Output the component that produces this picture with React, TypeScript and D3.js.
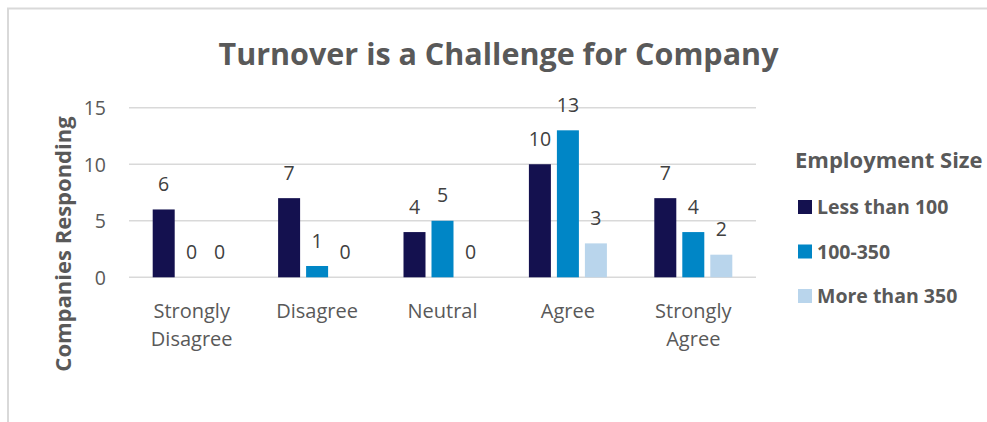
import React from "react";
import * as d3 from "d3";

const categories = ["Strongly Disagree", "Disagree", "Neutral", "Agree", "Strongly Agree"];
const categoryLines = [["Strongly", "Disagree"], ["Disagree"], ["Neutral"], ["Agree"], ["Strongly", "Agree"]];
const seriesNames = ["Less than 100", "100-350", "More than 350"];
const lessThan100 = [6, 7, 4, 10, 7];
const from100to350 = [0, 1, 5, 13, 4];
const moreThan350 = [0, 0, 0, 3, 2];
const yTicks = [0, 5, 10, 15];
const colors = ["#14114F", "#0086C6", "#B9D5EC"];

const W = 987;
const H = 422;
const FONT = "'Open Sans', Lato, sans-serif";
const TEXT = "#595959";

export default function App() {
  const seriesValues = [lessThan100, from100to350, moreThan350];
  const x0 = d3.scaleBand<string>().domain(categories).range([129, 756]).padding(0);
  const x1 = d3.scaleBand<string>().domain(seriesNames).range([-39, 39]).paddingInner(6 / 28).paddingOuter(0);
  const y = d3.scaleLinear().domain([0, 15]).range([277.3, 107.7]);

  return (
    <svg width={W} height={H} style={{ position: "absolute", left: 0, top: 0, background: "#fff" }} fontFamily={FONT}>
      <rect x={8} y={8.5} width={W + 10} height={H + 10} fill="#fff" stroke="#D9D9D9" strokeWidth={2} />
      <text x={498.5} y={65} textAnchor="middle" fontSize={30.5} fontWeight="bold" fill={TEXT}>
        Turnover is a Challenge for Company
      </text>
      {yTicks.map((t) => (
        <g key={t}>
          <line x1={129} x2={756} y1={y(t)} y2={y(t)} stroke="#D9D9D9" strokeWidth={1.5} />
          <text x={106} y={y(t) + 7.5} textAnchor="end" fontSize={19.5} fill={TEXT}>
            {t}
          </text>
        </g>
      ))}
      <text
        transform={`translate(${71},${244}) rotate(-90)`}
        textAnchor="middle"
        fontSize={22}
        fontWeight="bold"
        fill={TEXT}
      >
        Companies Responding
      </text>
      {categories.map((c, ci) => {
        const cx = (x0(c) as number) + x0.bandwidth() / 2;
        return (
          <g key={c}>
            {seriesNames.map((s, si) => {
              const v = seriesValues[si][ci];
              const bx = cx + (x1(s) as number);
              return (
                <g key={s}>
                  {v > 0 && (
                    <rect x={bx} y={y(v)} width={x1.bandwidth()} height={y(0) - y(v)} fill={colors[si]} />
                  )}
                  <text x={bx + x1.bandwidth() / 2} y={y(v) - 18.3} textAnchor="middle" fontSize={19.5} fill="#404040">
                    {v}
                  </text>
                </g>
              );
            })}
            {categoryLines[ci].map((ln, li) => (
              <text key={li} x={cx} y={318 + li * 27.5} textAnchor="middle" fontSize={20} fill={TEXT}>
                {ln}
              </text>
            ))}
          </g>
        );
      })}
      <text x={795} y={168} fontSize={22} fontWeight="bold" fill={TEXT}>
        Employment Size
      </text>
      {seriesNames.map((s, i) => {
        const by = 214 + i * 44.5;
        return (
          <g key={s}>
            <rect x={798} y={by - 14} width={14} height={14} fill={colors[i]} />
            <text x={817} y={by} fontSize={19.5} fontWeight="bold" fill={TEXT}>
              {s}
            </text>
          </g>
        );
      })}
    </svg>
  );
}
